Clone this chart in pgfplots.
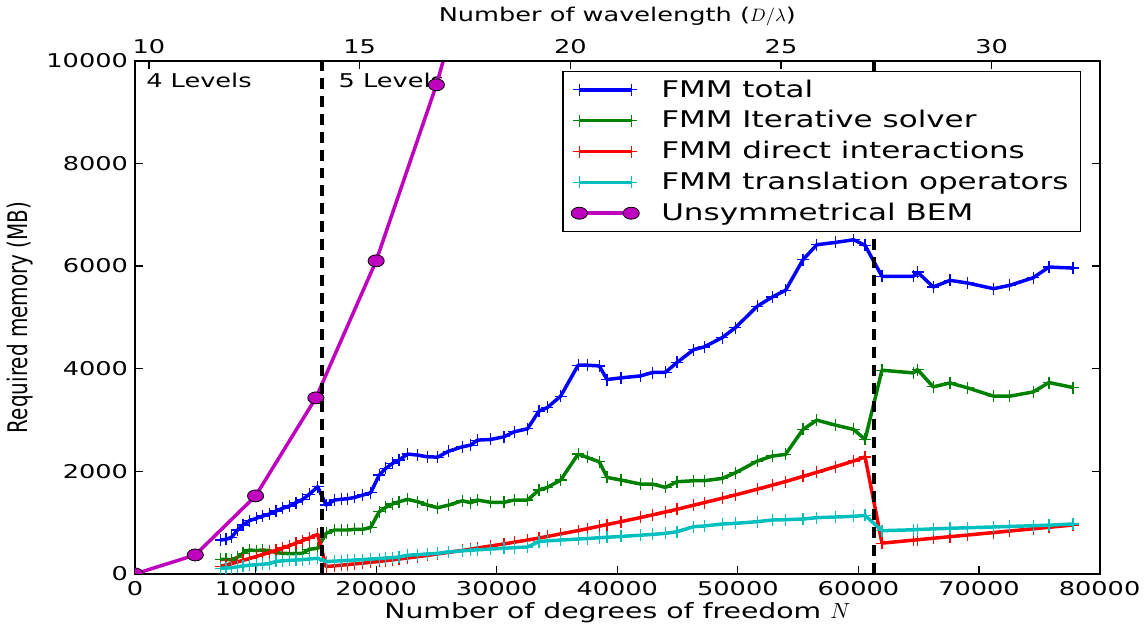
\documentclass[border=0pt]{standalone}
\usepackage{fontspec}
\setmainfont{DejaVu Sans}[FakeStretch=1.35]
\newfontfamily\plainfont{DejaVu Sans}
\usepackage{graphicx}
\usepackage{pgfplots}
\usepackage{pgfplotstable}
\pgfplotsset{compat=1.18}

\definecolor{mplblue}{RGB}{0,0,255}
\definecolor{mplgreen}{RGB}{0,128,0}
\definecolor{mplred}{RGB}{255,0,0}
\definecolor{mplcyan}{RGB}{0,191,191}
\definecolor{mplmagenta}{RGB}{191,0,191}

% N, total, iterative solver, direct interactions, translation operators
\pgfplotstableread{
N total iter direct trans
7100 660 285 150 110
7550 675 285 175 115
8000 713 272 200 120
8500 856 324 235 140
8950 953 402 265 155
9500 1038 467 300 170
10050 1083 454 340 180
10600 1128 467 380 190
11150 1167 454 420 200
11700 1226 415 460 245
12250 1278 402 505 255
12800 1323 396 550 265
13350 1388 396 600 270
13900 1453 402 650 280
14450 1550 480 700 290
15150 1700 499 770 305
15850 1342 791 143 240
16550 1440 856 158 250
17100 1455 856 170 255
17650 1466 856 182 262
18200 1490 869 195 270
18900 1537 869 210 280
19550 1582 908 228 290
20250 1926 1212 243 300
20800 2056 1297 258 310
21350 2153 1362 275 318
21900 2218 1407 290 330
22600 2335 1453 310 365
23450 2315 1407 337 375
24250 2282 1342 362 390
25100 2276 1290 390 400
26000 2390 1340 420 430
27150 2477 1426 458 450
27850 2510 1387 483 462
28400 2607 1440 505 470
29500 2620 1395 545 485
30600 2672 1395 585 500
31450 2769 1440 618 512
32550 2828 1440 660 525
33500 3171 1634 700 630
34200 3243 1686 730 645
35300 3463 1829 780 660
36750 4066 2335 845 680
37500 4066 2270 880 690
38500 4053 2185 930 705
39150 3788 1881 962 715
40300 3820 1829 1018 730
41950 3859 1751 1100 755
42900 3924 1751 1150 770
44000 3930 1686 1208 790
44950 4120 1796 1260 824
46350 4371 1816 1340 921
47200 4423 1816 1390 934
48700 4604 1861 1475 973
49800 4799 1971 1540 986
51600 5214 2198 1650 1018
52850 5395 2296 1730 1050
53950 5525 2329 1800 1057
55400 6122 2815 1900 1070
56550 6414 2996 1980 1096
58100 6459 2899 2090 1109
59600 6511 2815 2200 1122
60550 6401 2621 2280 1140
61950 5798 3969 600 843
64550 5798 3917 658 860
64900 5882 3982 666 865
66200 5590 3645 695 878
67600 5720 3722 726 890
69050 5668 3625 758 900
71200 5558 3463 806 915
72550 5623 3463 836 925
74500 5772 3547 880 940
75800 5979 3729 909 950
77800 5959 3632 953 973
}\fmmtable

\pgfplotstableread{
N bem
0 0
5000 370
10000 1520
15000 3430
20000 6100
25000 9530
30000 13680
}\bemtable

\begin{document}
\begin{tikzpicture}
\pgfplotsset{
  fmm/.style={line width=1.75pt, line join=round, mark=+, mark size=3pt,
    mark options={solid, line width=0.6pt}},
}
\begin{axis}[
  width=483pt, height=257pt, scale only axis,
  xmin=0, xmax=80000, ymin=0, ymax=10000,
  xtick={0,10000,...,80000}, ytick={0,2000,...,10000},
  scaled ticks=false,
  clip marker paths=true,
  /pgf/number format/1000 sep={},
  /pgf/number format/assume math mode=true,
  xtick pos=bottom, ytick pos=both,
  tick align=inside, major tick length=4pt,
  tick style={black, line width=0.6pt},
  axis line style={line width=1pt},
  tick label style={font=\fontsize{9.5}{11}\selectfont},
  xlabel={Number of degrees of freedom $N$},
  xlabel style={font=\fontsize{10.5}{12}\selectfont, yshift=3pt},
  ylabel={\plainfont\scalebox{1}[1.35]{Required memory (MB)}},
  ylabel style={font=\fontsize{10}{12}\selectfont},
  legend cell align=left,
  legend image code/.code={\draw[mark repeat=2, mark phase=1, #1] plot coordinates {(0pt,0pt) (13pt,0pt) (26pt,0pt)};},
  legend style={at={(0.981,0.98)}, anchor=north east, draw=black, line width=0.75pt,
    font=\fontsize{11.5}{13}\selectfont, row sep=1.2pt, inner ysep=2pt, inner xsep=4pt,
    /tikz/every odd column/.append style={column sep=9pt}},
]
\node[anchor=west, font=\fontsize{9.5}{11}\selectfont] at (axis cs:350,9620) {4 Levels};
\node[anchor=west, font=\fontsize{9.5}{11}\selectfont] at (axis cs:16300,9620) {5 Levels};
\addplot[fmm, mplblue] table[x=N, y=total] {\fmmtable};
\addlegendentry{FMM total}
\addplot[fmm, mplgreen] table[x=N, y=iter] {\fmmtable};
\addlegendentry{FMM Iterative solver}
\addplot[fmm, mplred] table[x=N, y=direct] {\fmmtable};
\addlegendentry{FMM direct interactions}
\addplot[fmm, mplcyan] table[x=N, y=trans] {\fmmtable};
\addlegendentry{FMM translation operators}
\addplot[mplmagenta, line width=1.75pt, mark=*, mark size=3pt,
  mark options={solid, draw=black, fill=mplmagenta, line width=0.4pt, xscale=1.35}]
  table[x=N, y=bem] {\bemtable};
\addlegendentry{Unsymmetrical BEM}
\addplot[black, line width=2pt, dash pattern=on 5.5pt off 3.5pt, forget plot]
  coordinates {(15550,0) (15550,10000)};
\addplot[black, line width=2pt, dash pattern=on 5.5pt off 3.5pt, forget plot]
  coordinates {(61280,0) (61280,10000)};
\end{axis}
\begin{axis}[
  width=483pt, height=257pt, scale only axis,
  xmin=9.67, xmax=32.56, ymin=0, ymax=1,
  axis x line*=top, hide y axis,
  xtick={10,15,20,25,30},
  /pgf/number format/assume math mode=true,
  tick align=inside, major tick length=4pt,
  tick style={black, line width=0.6pt},
  axis line style={line width=1pt},
  tick label style={font=\fontsize{9.5}{11}\selectfont},
  xlabel={Number of wavelength ($D/\lambda$)},
  xlabel style={font=\fontsize{9.5}{11}\selectfont},
]
\addplot[draw=none] coordinates {(10,0.5)};
\end{axis}
\end{tikzpicture}
\end{document}
